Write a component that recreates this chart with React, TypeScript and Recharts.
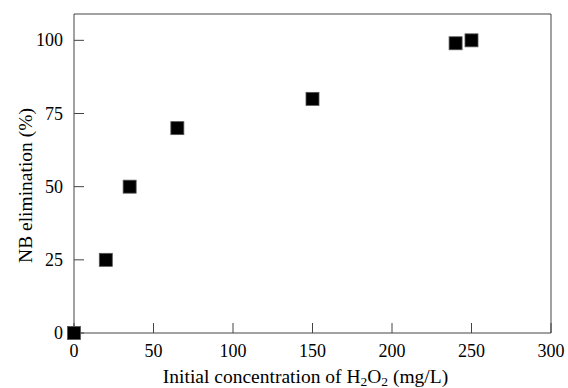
import { ScatterChart, Scatter, XAxis, YAxis, ReferenceLine, Label } from 'recharts';

const dose = [0, 20, 35, 65, 150, 240, 250];
const elimination = [0, 25, 50, 70, 80, 99, 100];
const xTicks = [0, 50, 100, 150, 200, 250, 300];
const yTicks = [0, 25, 50, 75, 100];

const points = dose.map((x, i) => ({ x, y: elimination[i] }));

const FONT = '"Liberation Serif", "Times New Roman", serif';
const AXIS = '#444';

const Square = (props: any) => {
  const { cx, cy } = props;
  if (cx == null || cy == null) return null;
  return <rect x={cx - 6.5} y={cy - 6.5} width={13} height={13} fill="#000" stroke="#555" strokeWidth={0.8} />;
};

const XTick = ({ x, y, payload }: any) => (
  <text x={x} y={y + 12} textAnchor="middle" fontFamily={FONT} fontSize={18} fill="#000">
    {payload.value}
  </text>
);

const YTick = ({ x, y, payload }: any) => (
  <text x={x} y={y + 6} textAnchor="end" fontFamily={FONT} fontSize={18} fill="#000">
    {payload.value}
  </text>
);

const XTitle = ({ viewBox }: any) => {
  const { x, y, width } = viewBox;
  return (
    <text x={x + width / 2 - 7} y={y + 50} textAnchor="middle" fontFamily={FONT} fontSize={19.5} fill="#000">
      Initial concentration of H
      <tspan fontSize={13.5} dy={3}>2</tspan>
      <tspan dy={-3}>O</tspan>
      <tspan fontSize={13.5} dy={3}>2</tspan>
      <tspan dy={-3}> (mg/L)</tspan>
    </text>
  );
};

const YTitle = ({ viewBox }: any) => {
  const { y, height } = viewBox;
  const cx = 32;
  const cy = y + height / 2 + 12;
  return (
    <text x={cx} y={cy} transform={`rotate(-90 ${cx} ${cy})`} textAnchor="middle" fontFamily={FONT} fontSize={19.5} fill="#000">
      NB elimination (%)
    </text>
  );
};

export default function App() {
  return (
    <div style={{ position: 'absolute', left: 0, top: 0, background: '#fff', fontFamily: FONT }}>
      <ScatterChart width={568} height={388} margin={{ top: 14, right: 17, bottom: 0, left: 0 }}>
        <XAxis
          type="number"
          dataKey="x"
          domain={[0, 300]}
          ticks={xTicks}
          height={55}
          tickSize={-10}
          tickMargin={22}
          stroke={AXIS}
          tick={<XTick />}
        >
          <Label content={<XTitle />} position="bottom" />
        </XAxis>
        <YAxis
          type="number"
          dataKey="y"
          domain={[0, 109]}
          ticks={yTicks}
          width={74}
          tickSize={-10}
          tickMargin={21}
          stroke={AXIS}
          tick={<YTick />}
        >
          <Label content={<YTitle />} position="insideLeft" />
        </YAxis>
        <ReferenceLine y={109} stroke={AXIS} />
        <ReferenceLine x={300} stroke={AXIS} />
        <Scatter data={points} shape={<Square />} isAnimationActive={false} />
      </ScatterChart>
    </div>
  );
}
